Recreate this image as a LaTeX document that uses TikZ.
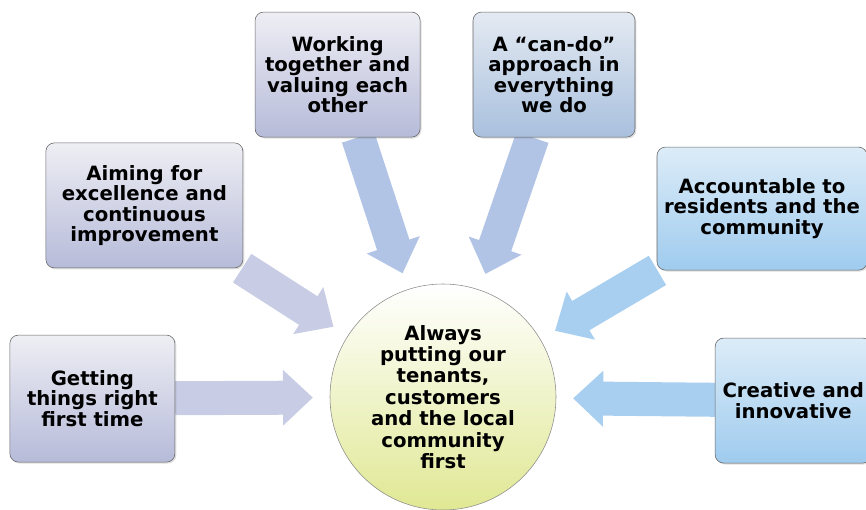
\documentclass[tikz,border=0pt]{standalone}
\usepackage{fontspec}
\setmainfont{DejaVu Sans}
\usetikzlibrary{arrows.meta,shadows,backgrounds}

\definecolor{lavtop}{HTML}{EEEEF4}
\definecolor{lavbot}{HTML}{B6BBD9}
\definecolor{skytop}{HTML}{DCECF8}
\definecolor{skybot}{HTML}{9FCBEE}
\definecolor{greytop}{HTML}{E4EAF2}
\definecolor{greybot}{HTML}{A9C0DE}
\definecolor{lavarrow}{HTML}{C8CCE4}
\definecolor{bluarrow}{HTML}{A9CFF0}
\definecolor{midarrow}{HTML}{B2C4E6}
\definecolor{lime}{HTML}{E0E894}

\begin{document}
\begin{tikzpicture}
        \tikzstyle{value} = [draw=black!60,rounded corners=6pt,align=center,inner sep=2pt,
            font=\fontsize{14}{14.6}\selectfont\bfseries,drop shadow={opacity=0.25,shadow xshift=1pt,shadow yshift=-1pt}]
        \tikzstyle{left} = [value,top color=lavtop,bottom color=lavbot]
        \tikzstyle{right} = [value,top color=skytop,bottom color=skybot]
        \tikzstyle{flow} = [line width=0.85cm,shorten >=0.42cm,-{Triangle[width=1.35cm,length=0.75cm]}]

        \clip (0,0) rectangle (21.65,12.725);

        \node[circle,draw=black!45,minimum size=5.65cm,top color=white,bottom color=lime,
            align=center,font=\fontsize{14}{15.2}\selectfont\bfseries] (M) at (11.075,2.8)
            {Always\\putting our\\tenants,\\customers\\and the local\\community\\first};

        \node[left,minimum width=4.125cm,minimum height=3.175cm] (G) at (2.31,2.76) {Getting\\things right\\first time};
        \node[left,minimum width=4.925cm,minimum height=3.125cm] (A) at (3.61,7.59) {Aiming for\\excellence and\\continuous\\improvement};
        \node[left,minimum width=4.125cm,minimum height=3.125cm] (W) at (8.44,10.86) {Working\\together and\\valuing each\\other};
        \node[value,top color=greytop,bottom color=greybot,minimum width=4.05cm,minimum height=3.125cm] (C) at (13.85,10.86) {A ``can-do''\\approach in\\everything\\we do};
        \node[right,minimum width=5.25cm,minimum height=3.075cm] (R) at (19.05,7.51) {Accountable to\\residents and the\\community};
        \node[right,minimum width=3.9cm,minimum height=3.125cm] (I) at (19.83,2.71) {Creative and\\innovative};

        \begin{scope}[on background layer]
        \draw[flow,lavarrow] (G) edge (M) (A) edge (M);
        \draw[flow,midarrow] (W) edge (M) (C) edge (M);
        \draw[flow,bluarrow] (R) edge (M) (I) edge (M);
        \end{scope}

    \end{tikzpicture}
\end{document}
